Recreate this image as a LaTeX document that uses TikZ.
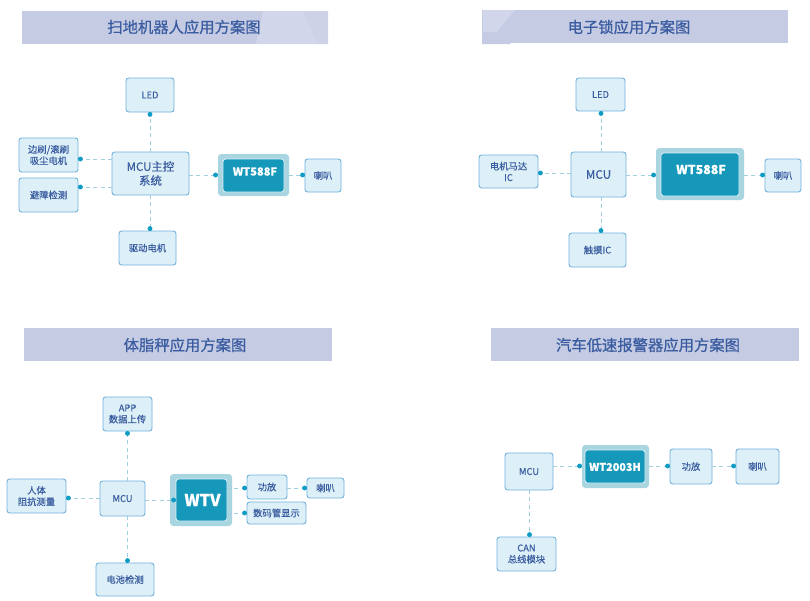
\documentclass[tikz,border=0pt]{standalone}
\usepackage{fontspec}
\setmainfont{Noto Sans CJK SC}[FakeBold=0.35]
\newfontfamily\titlefont{Noto Sans CJK SC}[FakeBold=0.8]
\usepackage{tikz}
\usetikzlibrary{arrows.meta}

\definecolor{barblue}{HTML}{C5CBE3}
\definecolor{barlight}{HTML}{D2D6EA}
\definecolor{inkblue}{HTML}{3A5CA0}
\definecolor{boxfill}{HTML}{DDF0F7}
\definecolor{boxline}{HTML}{6FB0DC}
\definecolor{ringblue}{HTML}{A9D5E0}
\definecolor{chipfill}{HTML}{1598BA}
\definecolor{linkblue}{HTML}{A0CFDF}
\definecolor{dotblue}{HTML}{0F9CC4}

\tikzset{
  wh/.style n args={2}{minimum width=#1*0.75pt, minimum height=#2*0.75pt},
  titlebar/.style={fill=barblue, inner sep=0pt, outer sep=0pt},
  titletext/.style={text=inkblue, font=\titlefont\fontsize{11.5}{14}\selectfont},
  blockbox/.style={draw=boxline, fill=boxfill, rounded corners=2pt, line width=0.7pt,
    inner sep=0pt, outer sep=0pt, align=center, text=inkblue,
    font=\fontsize{7}{8.5}\selectfont},
  chipring/.style={fill=ringblue, rounded corners=2.5pt, inner sep=0pt, outer sep=0pt},
  chipcore/.style={fill=chipfill, draw=boxfill, line width=0.6pt, rounded corners=2pt,
    inner sep=0pt, outer sep=0pt},
  chiptext/.style={text=white, font=\bfseries\fontsize{#1}{#1}\selectfont},
  link/.style={draw=linkblue, dash pattern=on 3pt off 2.5pt, line width=0.6pt,
    -{Circle[length=3.6pt,width=3.6pt,fill=dotblue,color=dotblue]}},
}

\begin{document}
\begin{tikzpicture}[x=0.75pt, y=-0.75pt]
  \useasboundingbox (0,0) rectangle (810,600);

  % sweeper
  \node[titlebar, wh={306}{33}] (titlea) at (175,27) {};
  \fill[barlight] (256,44) -- (263,11) -- (303,11) -- (318,44) -- cycle;
  \fill[barlight!60!barblue] (303,11) -- (328,11) -- (328,44) -- (318,44) -- cycle;
  \node[titletext] (titleatext) at (184,27) {扫地机器人应用方案图};
  \node[blockbox, wh={48}{34}] (leda) at (150,95) {LED};
  \node[blockbox, wh={59}{34}] (brusha) at (48.5,155) {边刷/滚刷\\吸尘电机};
  \node[blockbox, wh={59}{34}] (avoida) at (48.5,195) {避障检测};
  \node[blockbox, wh={77}{43}, font=\fontsize{8.6}{10.5}\selectfont] (mcua) at (150.5,173.5) {MCU主控\\系统};
  \node[chipring, wh={71}{42}] (ringa) at (253.5,175) {};
  \node[chipcore, wh={61}{33}] (chipa) at (253.5,175.5) {};
  \node[chiptext=8.3] (wta) at (255,171.5) {WT588F};
  \node[blockbox, wh={36}{33}] (horna) at (323,175.5) {喇叭};
  \node[blockbox, wh={57}{34}] (motora) at (147.5,248) {驱动电机};
  \draw[link] (150,0 |- mcua.north) -- (150,0 |- leda.south);
  \draw[link] (mcua.west |- 0,159) -- (brusha.east |- 0,159);
  \draw[link] (mcua.west |- 0,187) -- (avoida.east |- 0,187);
  \draw[link] (mcua.east |- 0,175) -- (ringa.west |- 0,175);
  \draw[link] (ringa.east |- 0,175) -- (horna.west |- 0,175);
  \draw[link] (150,0 |- mcua.south) -- (150,0 |- motora.north);

  % lock
  \node[titlebar, wh={306}{33}] (titleb) at (635,26.5) {};
  \fill[barlight] (483,10) -- (515,10) -- (497,32) -- (483,32) -- cycle;
  \fill[barblue] (482,32) -- (497,32) -- (511,44) -- (482,44) -- cycle;
  \node[titletext] (titlebtext) at (629,27) {电子锁应用方案图};
  \node[blockbox, wh={49}{33}] (ledb) at (600.5,94.5) {LED};
  \node[blockbox, wh={59}{33}] (motorb) at (508.5,171.5) {电机马达\\IC};
  \node[blockbox, wh={55}{45}, font=\fontsize{8.8}{10}\selectfont] (mcub) at (598.5,174.5) {MCU};
  \node[chipring, wh={88}{52}] (ringb) at (700,174) {};
  \node[chipcore, wh={78}{43}] (chipb) at (700,174.5) {};
  \node[chiptext=9.3] (wtb) at (701,169.5) {WT588F};
  \node[blockbox, wh={36}{33}] (hornb) at (783,175.5) {喇叭};
  \node[blockbox, wh={57}{34}] (touchb) at (597.5,250) {触摸IC};
  \draw[link] (601,0 |- mcub.north) -- (601,0 |- ledb.south);
  \draw[link] (mcub.west |- 0,173) -- (motorb.east |- 0,173);
  \draw[link] (mcub.east |- 0,175) -- (ringb.west |- 0,175);
  \draw[link] (ringb.east |- 0,175) -- (hornb.west |- 0,175);
  \draw[link] (601,0 |- mcub.south) -- (601,0 |- touchb.north);

  % scale
  \node[titlebar, wh={308}{33}] (titlec) at (178,344.5) {};
  \node[titletext] (titlectext) at (185,345) {体脂秤应用方案图};
  \node[blockbox, wh={49}{34}] (appc) at (127.5,414) {APP\\数据上传};
  \node[blockbox, wh={59}{34}] (bodyc) at (36.5,496) {人体\\阻抗测量};
  \node[blockbox, wh={45}{35}] (mcuc) at (122.5,498.5) {MCU};
  \node[chipring, wh={62}{52}] (ringc) at (201,500) {};
  \node[chipcore, wh={51}{42}] (chipc) at (201.5,500) {};
  \node[chiptext=12.2] (wtc) at (202.5,500) {WTV};
  \node[blockbox, wh={40}{24}] (ampc) at (267,487) {功放};
  \node[blockbox, wh={37}{20}] (hornc) at (325.5,488) {喇叭};
  \node[blockbox, wh={59}{22}] (ledc) at (276.5,513) {数码管显示};
  \node[blockbox, wh={58}{33}] (battc) at (125,579.5) {电池检测};
  \draw[link] (127.5,0 |- mcuc.north) -- (127.5,0 |- appc.south);
  \draw[link] (mcuc.west |- 0,498) -- (bodyc.east |- 0,498);
  \draw[link] (mcuc.east |- 0,500) -- (chipc.west |- 0,500);
  \draw[link] (chipc.east |- 0,488) -- (ampc.west |- 0,488);
  \draw[link] (chipc.east |- 0,513) -- (ledc.west |- 0,513);
  \draw[link] (ampc.east |- 0,488) -- (hornc.west |- 0,488);
  \draw[link] (127.5,0 |- mcuc.south) -- (127.5,0 |- battc.north);

  % car
  \node[titlebar, wh={308}{33}] (titled) at (645,344.5) {};
  \node[titletext] (titledtext) at (648,345) {汽车低速报警器应用方案图};
  \node[blockbox, wh={48}{37}] (mcud) at (529,471.5) {MCU};
  \node[chipring, wh={67}{43}] (ringd) at (615.5,466.5) {};
  \node[chipcore, wh={60}{33}] (chipd) at (615,466.5) {};
  \node[chiptext=8.1] (wtd) at (615,467) {WT2003H};
  \node[blockbox, wh={42}{35}] (ampd) at (691,466.5) {功放};
  \node[blockbox, wh={43}{35}] (hornd) at (757.5,466.5) {喇叭};
  \node[blockbox, wh={59}{34}] (cand) at (526.5,554) {CAN\\总线模块};
  \draw[link] (mcud.east |- 0,466) -- (ringd.west |- 0,466);
  \draw[link] (ringd.east |- 0,466) -- (ampd.west |- 0,466);
  \draw[link] (ampd.east |- 0,466) -- (hornd.west |- 0,466);
  \draw[link] (529.5,0 |- mcud.south) -- (529.5,0 |- cand.north);
\end{tikzpicture}
\end{document}
